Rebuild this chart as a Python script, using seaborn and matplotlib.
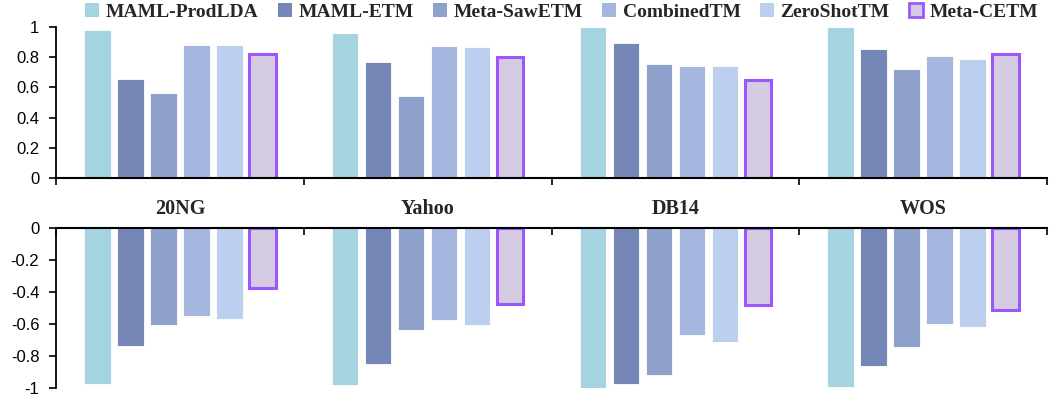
import matplotlib
matplotlib.use("Agg")
import matplotlib.pyplot as plt
from matplotlib.patches import Patch
from matplotlib.ticker import FuncFormatter, FixedLocator
import seaborn as sns
import pandas as pd

datasets = ["20NG", "Yahoo", "DB14", "WOS"]
models = ["MAML-ProdLDA", "MAML-ETM", "Meta-SawETM", "CombinedTM", "ZeroShotTM", "Meta-CETM"]

# upper panel (positive scores), one list per model across datasets
top_prodlda = [0.98, 0.958, 1.0, 1.0]
top_etm = [0.658, 0.768, 0.894, 0.856]
top_sawetm = [0.563, 0.545, 0.753, 0.72]
top_combined = [0.881, 0.872, 0.742, 0.808]
top_zeroshot = [0.881, 0.87, 0.74, 0.788]
top_cetm = [0.82, 0.803, 0.649, 0.819]

# lower panel (negative scores)
bot_prodlda = [-0.977, -0.983, -0.998, -0.996]
bot_etm = [-0.735, -0.85, -0.975, -0.862]
bot_sawetm = [-0.608, -0.64, -0.918, -0.746]
bot_combined = [-0.55, -0.577, -0.667, -0.598]
bot_zeroshot = [-0.566, -0.608, -0.712, -0.62]
bot_cetm = [-0.372, -0.473, -0.483, -0.51]

top_series = [top_prodlda, top_etm, top_sawetm, top_combined, top_zeroshot, top_cetm]
bot_series = [bot_prodlda, bot_etm, bot_sawetm, bot_combined, bot_zeroshot, bot_cetm]

colors = ["#A5D3DF", "#7587B7", "#8DA1CB", "#A5B7DE", "#BCCFEE", "#D5CBE3"]
cetm_edge = "#9B57FB"


def long_frame(series):
    rows = []
    for m, vals in zip(models, series):
        for d, v in zip(datasets, vals):
            rows.append({"dataset": d, "model": m, "value": v})
    return pd.DataFrame(rows)


sns.set_theme(style="white")
plt.rcParams["font.family"] = ["Liberation Sans", "DejaVu Sans"]

W, H = 1056, 398
fig = plt.figure(figsize=(W / 100, H / 100), dpi=100)

x0, x1 = 56, 1047
ax_top = fig.add_axes([x0 / W, 1 - 178 / H, (x1 - x0) / W, (178 - 27) / H])
ax_bot = fig.add_axes([x0 / W, 1 - 388 / H, (x1 - x0) / W, (388 - 228) / H])

palette = dict(zip(models, colors))
serif_bold = dict(family="Liberation Serif", weight="bold", size=14)

for ax, series, ylim, ticks in [
    (ax_top, top_series, (0, 1), [0, 0.2, 0.4, 0.6, 0.8, 1.0]),
    (ax_bot, bot_series, (-1, 0), [-1, -0.8, -0.6, -0.4, -0.2, 0]),
]:
    df = long_frame(series)
    sns.barplot(data=df, x="dataset", y="value", hue="model", order=datasets,
                hue_order=models, palette=palette, saturation=1, width=0.8,
                gap=0.2, edgecolor="white", linewidth=0.6, legend=False, ax=ax)
    for bar in ax.containers[5]:
        bar.set_edgecolor(cetm_edge)
        bar.set_linewidth(2.2)
    ax.set_xlim(-0.5, 3.5)
    ax.set_ylim(*ylim)
    ax.set_yticks(ticks)
    ax.yaxis.set_major_formatter(FuncFormatter(lambda v, p: "%g" % round(v, 1)))
    ax.set_xlabel("")
    ax.set_ylabel("")
    ax.tick_params(axis="y", left=True, direction="out", length=5, width=1.2,
                   labelsize=12, pad=7, colors="black")
    for s in ax.spines.values():
        s.set_visible(False)
    ax.spines["left"].set_visible(True)
    ax.spines["left"].set_color("black")
    ax.spines["left"].set_linewidth(1.3)
    ax.patch.set_alpha(0)

# category boundaries as minor ticks on the zero line
bounds = [-0.5, 0.5, 1.5, 2.5, 3.5]
ax_top.spines["bottom"].set_visible(True)
ax_top.spines["bottom"].set_color("black")
ax_top.spines["bottom"].set_linewidth(1.5)
ax_top.xaxis.set_minor_locator(FixedLocator(bounds))
ax_top.tick_params(axis="x", which="minor", bottom=True, direction="out",
                   length=5, width=1.2, color="black")
ax_top.tick_params(axis="x", which="major", bottom=True, length=0, pad=15)
for lbl in ax_top.get_xticklabels():
    lbl.set_fontfamily("Liberation Serif")
    lbl.set_fontweight("bold")
    lbl.set_fontsize(14.5)

ax_bot.spines["top"].set_visible(True)
ax_bot.spines["top"].set_color("black")
ax_bot.spines["top"].set_linewidth(1.5)
ax_bot.xaxis.set_minor_locator(FixedLocator(bounds))
ax_bot.tick_params(axis="x", which="minor", top=True, bottom=False, direction="in",
                   length=5, width=1.2, color="black")
ax_bot.tick_params(axis="x", which="major", bottom=False, top=False,
                   labelbottom=False, length=0)

handles = []
for m, c in zip(models, colors):
    if m == "Meta-CETM":
        handles.append(Patch(facecolor=c, edgecolor=cetm_edge, linewidth=2))
    else:
        handles.append(Patch(facecolor=c, edgecolor="none"))
fig.legend(handles, models, loc="center", bbox_to_anchor=(0.532, 1 - 12 / H),
           ncol=6, frameon=False, prop=serif_bold, handlelength=0.7,
           handleheight=0.7, handletextpad=0.35, columnspacing=1.0,
           borderaxespad=0, borderpad=0)

fig.savefig("out.png", dpi=100)
